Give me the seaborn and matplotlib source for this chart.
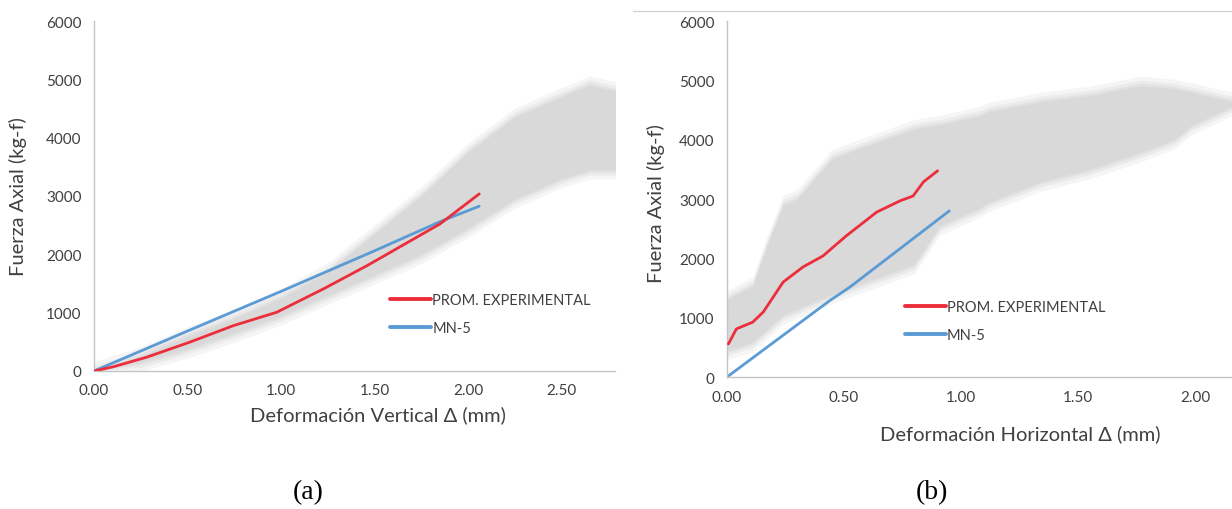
import matplotlib
matplotlib.use("Agg")
import matplotlib.pyplot as plt
from matplotlib.lines import Line2D
import numpy as np
import pandas as pd
import seaborn as sns

# ---------------- data ----------------
# (a) vertical deformation
va_exp_x = [0.00, 0.10, 0.28, 0.51, 0.745, 0.977, 1.226, 1.46, 1.85, 2.06]
va_exp_y = [0, 70, 235, 492, 777, 1007, 1406, 1806, 2521, 3036]
va_mn5_x = [0.00, 0.50, 1.00, 1.50, 1.85, 2.06]
va_mn5_y = [0, 685, 1365, 2060, 2560, 2825]
va_band_x = [0.00, 0.25, 0.50, 0.75, 1.00, 1.25, 1.50, 1.75, 2.00, 2.25, 2.50, 2.65, 2.79]
va_band_hi = [0, 260, 600, 900, 1250, 1700, 2350, 3000, 3750, 4350, 4700, 4900, 4800]
va_band_lo = [0, 150, 380, 650, 950, 1300, 1650, 2000, 2450, 2950, 3300, 3450, 3450]

# (b) horizontal deformation
hb_exp_x = [0.006, 0.04, 0.11, 0.155, 0.24, 0.325, 0.41, 0.51, 0.64, 0.74, 0.795, 0.84, 0.90]
hb_exp_y = [557, 810, 925, 1095, 1600, 1855, 2040, 2380, 2780, 2970, 3050, 3290, 3475]
hb_mn5_x = [0.00, 0.44, 0.525, 0.95]
hb_mn5_y = [0, 1290, 1515, 2800]
hb_band_x = [0.00, 0.11, 0.17, 0.24, 0.30, 0.45, 0.80, 0.91, 1.08, 1.12, 1.34, 1.55, 1.77, 1.91, 1.98, 2.16]
hb_band_hi = [1300, 1530, 2200, 2900, 3000, 3680, 4180, 4250, 4400, 4470, 4640, 4740, 4910, 4860, 4800, 4640]
hb_band_lo = [450, 590, 800, 1050, 1150, 1400, 1900, 2550, 2850, 2950, 3290, 3500, 3790, 4000, 4230, 4570]

series_labels = ["PROM. EXPERIMENTAL", "MN-5"]
y_ticks = [0, 1000, 2000, 3000, 4000, 5000, 6000]
xa_ticks = [0.0, 0.5, 1.0, 1.5, 2.0, 2.5]
xb_ticks = [0.0, 0.5, 1.0, 1.5, 2.0]

# ---------------- style ----------------
sns.set_theme(style="white")
plt.rcParams["font.family"] = ["Lato", "DejaVu Sans"]

RED = "#ec2d3b"
BLUE = "#5b9bd5"
BAND = "#d9d9d9"
AXC = "#c4c4c4"
TXT = "#404040"

fig = plt.figure(figsize=(12.32, 5.10), dpi=100)
W, H = 1232, 510


def axes_px(x0, x1, ytop, ybot):
    return fig.add_axes([x0 / W, 1 - ybot / H, (x1 - x0) / W, (ybot - ytop) / H])


ax_a = axes_px(94, 615, 22, 372)
ax_b = axes_px(727, 1232, 22, 378)


def style_axes(ax, xticks, xlim):
    ax.set_xlim(*xlim)
    ax.set_ylim(0, 6000)
    ax.set_xticks(xticks)
    ax.set_xticklabels([f"{t:.2f}" for t in xticks])
    ax.set_yticks(y_ticks)
    ax.set_yticklabels([str(t) for t in y_ticks])
    for s in ("top", "right"):
        ax.spines[s].set_visible(False)
    for s in ("left", "bottom"):
        ax.spines[s].set_color(AXC)
        ax.spines[s].set_linewidth(1.0)
    ax.tick_params(axis="both", which="major", direction="out", length=4,
                   width=0.8, color=AXC, labelsize=11, labelcolor=TXT, pad=5)
    ax.set_facecolor("none")


def draw_band(ax, bx, blo, bhi):
    # soft-edged envelope: a few widened translucent layers under the core fill
    lo = np.asarray(blo, float)
    hi = np.asarray(bhi, float)
    for pad, a in ((160, 0.25), (90, 0.35), (40, 0.5)):
        ax.fill_between(bx, np.maximum(lo - pad, 0), hi + pad, color=BAND,
                        alpha=a, linewidth=0, zorder=1)
    ax.fill_between(bx, lo, hi, color=BAND, linewidth=0, zorder=1)


def draw_panel(ax, bx, blo, bhi, ex, ey, mx, my):
    draw_band(ax, bx, blo, bhi)
    exp = pd.DataFrame({"x": ex, "y": ey})
    mn5 = pd.DataFrame({"x": mx, "y": my})
    sns.lineplot(data=exp, x="x", y="y", ax=ax, color=RED, linewidth=2.0,
                 sort=False, estimator=None, label=series_labels[0], zorder=3)
    sns.lineplot(data=mn5, x="x", y="y", ax=ax, color=BLUE, linewidth=2.0,
                 sort=False, estimator=None, label=series_labels[1], zorder=2)


draw_panel(ax_a, va_band_x, va_band_lo, va_band_hi, va_exp_x, va_exp_y, va_mn5_x, va_mn5_y)
draw_panel(ax_b, hb_band_x, hb_band_lo, hb_band_hi, hb_exp_x, hb_exp_y, hb_mn5_x, hb_mn5_y)

style_axes(ax_a, xa_ticks, (0, 2.786))
style_axes(ax_b, xb_ticks, (0, 2.158))

for ax, anchor in ((ax_a, (0.568, 0.223)), (ax_b, (0.352, 0.216))):
    leg = ax.legend(loc="upper left", bbox_to_anchor=anchor, frameon=False,
                    fontsize=10.5, handlelength=2.8, handletextpad=0.1,
                    labelspacing=0.95, borderaxespad=0, borderpad=0)
    for t in leg.get_texts():
        t.set_color(TXT)
    for h in leg.get_lines():
        h.set_linewidth(2.8)

label_kw = dict(fontsize=14.5, color=TXT)
ax_a.set_xlabel("Deformación Vertical Δ (mm)", **label_kw)
ax_b.set_xlabel("Deformación Horizontal Δ (mm)", **label_kw)
ax_a.set_ylabel("Fuerza Axial (kg-f)", **label_kw)
ax_b.set_ylabel("Fuerza Axial (kg-f)", **label_kw)
ax_a.xaxis.set_label_coords(0.545, -0.098)
ax_b.xaxis.set_label_coords(0.580, -0.132)
ax_a.yaxis.set_label_coords(-0.128, 0.50)
ax_b.yaxis.set_label_coords(-0.122, 0.49)

# thin frame line along the top of panel (b)
fig.add_artist(Line2D([633 / W, 1.0], [1 - 12 / H, 1 - 12 / H], color="#d0d0d0", linewidth=0.9))

cap_kw = dict(fontsize=20, family=["Liberation Serif", "DejaVu Serif"], color="black",
              ha="center", va="center")
fig.text(308 / W, 1 - 493 / H, "(a)", **cap_kw)
fig.text(932 / W, 1 - 493 / H, "(b)", **cap_kw)

fig.savefig("out.png", dpi=100, facecolor="white")
